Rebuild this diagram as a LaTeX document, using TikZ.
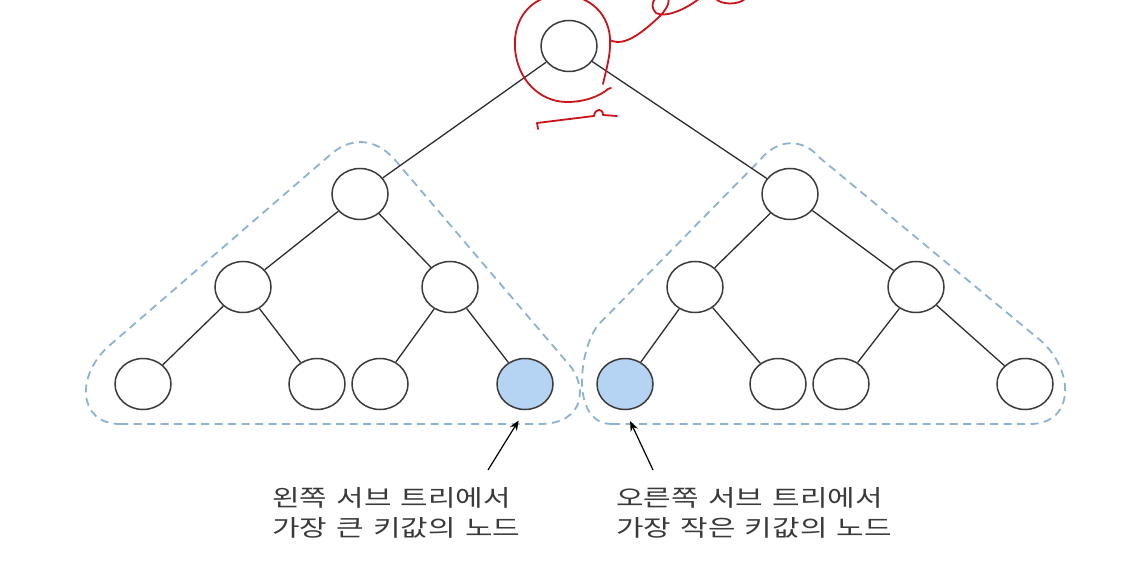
\documentclass[tikz,border=0pt]{standalone}
\usepackage{fontspec}
\newfontfamily\kr[FakeStretch=1.3,WordSpace=1.4]{Noto Sans CJK KR}
\usetikzlibrary{shapes.geometric,arrows.meta}
\definecolor{nodeline}{HTML}{3C3C3C}
\definecolor{edgeline}{HTML}{2E2E2E}
\definecolor{dashblue}{HTML}{8DB2D4}
\definecolor{leafblue}{HTML}{B5D3F2}
\definecolor{txtgray}{HTML}{3A3A3A}
\definecolor{scribble}{HTML}{C8141A}
\tikzset{
  tnode/.style={ellipse,draw=nodeline,line width=1.5pt,fill=white,minimum width=56pt,minimum height=51pt,inner sep=0pt},
  hinode/.style={tnode,fill=leafblue},
  edge/.style={draw=edgeline,line width=1.3pt},
  group/.style={draw=dashblue,line width=1.8pt,dash pattern=on 8pt off 5.5pt},
  pointer/.style={draw=black,line width=1.2pt,-{Stealth[length=10pt,width=8pt]},shorten >=12pt},
  caption/.style={font=\kr\fontsize{23}{30}\selectfont,text=txtgray,align=left,inner sep=0pt,anchor=north west},
  redpen/.style={draw=scribble,line width=1.8pt,line cap=round,line join=round}
}
\begin{document}
\begin{tikzpicture}[x=1pt,y=-1pt]
\useasboundingbox[fill=white] (0,0) rectangle (1140,569);
% dashed subtree outlines
\path[group] (120,424) -- (540,424) .. controls (585,424) and (590,385) .. (565,360)
  -- (395,160) .. controls (375,137) and (350,137) .. (330,155)
  -- (110,345) .. controls (75,375) and (78,424) .. (120,424) -- cycle;
\path[group] (612,424) -- (1030,424) .. controls (1075,424) and (1075,370) .. (1040,340)
  -- (820,158) .. controls (803,138) and (778,138) .. (760,160)
  -- (600,323) .. controls (580,343) and (568,424) .. (612,424) -- cycle;
% nodes
\node[tnode] (r) at (569,46) {};
\node[tnode] (L) at (360,194) {};
\node[tnode] (R) at (790,194) {};
\node[tnode] (LL) at (243,287) {};
\node[tnode] (LR) at (450,287) {};
\node[tnode] (RL) at (695,287) {};
\node[tnode] (RR) at (916,287) {};
\node[tnode] (LLL) at (143,384) {};
\node[tnode] (LLR) at (317,384) {};
\node[tnode] (LRL) at (380,384) {};
\node[hinode] (LRR) at (525,384) {};
\node[hinode] (RLL) at (625,384) {};
\node[tnode] (RLR) at (778,384) {};
\node[tnode] (RRL) at (841,384) {};
\node[tnode] (RRR) at (1025,384) {};
% edges
\path[edge] (r) -- (L);
\path[edge] (r) -- (R);
\path[edge] (L) -- (LL);
\path[edge] (L) -- (LR);
\path[edge] (R) -- (RL);
\path[edge] (R) -- (RR);
\path[edge] (LL) -- (LLL);
\path[edge] (LL) -- (LLR);
\path[edge] (LR) -- (LRL);
\path[edge] (LR) -- (LRR);
\path[edge] (RL) -- (RLL);
\path[edge] (RL) -- (RLR);
\path[edge] (RR) -- (RRL);
\path[edge] (RR) -- (RRR);
% captions
\node[caption] (capL) at (272,487) {왼쪽 서브 트리에서\\가장 큰 키값의 노드};
\node[caption] (capR) at (616,487) {오른쪽 서브 트리에서\\가장 작은 키값의 노드};
\coordinate (pL) at (488,470);
\coordinate (pR) at (653,470);
\path[pointer] (pL) -- (LRR.south);
\path[pointer] (pR) -- (RLL.south);
% red handwritten marks
\path[redpen] (603,84) .. controls (606,70) and (611,55) .. (610,38)
  .. controls (608,10) and (585,-6) .. (560,-5)
  .. controls (530,-4) and (513,20) .. (515,48)
  .. controls (517,80) and (540,102) .. (567,102)
  .. controls (585,102) and (600,96) .. (608,89) -- (611,88);
\path[redpen] (610,40) .. controls (625,48) and (645,30) .. (660,16)
  .. controls (668,8) and (672,-2) .. (665,-4)
  .. controls (655,-6) and (648,5) .. (656,13)
  .. controls (665,18) and (685,10) .. (700,-2);
\path[redpen] (716,-1) .. controls (722,5) and (738,5) .. (745,-1);
\path[redpen] (538,129) -- (537,123) -- (594,116)
  .. controls (595,108) and (603,108) .. (603,115) -- (617,116);
\end{tikzpicture}
\end{document}
